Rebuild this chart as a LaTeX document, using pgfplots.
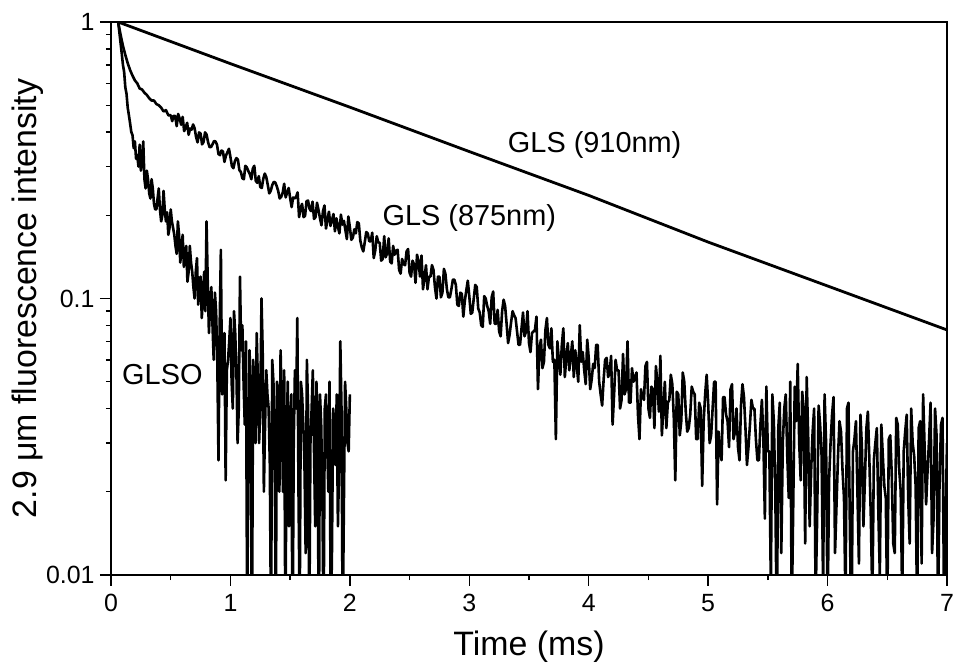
\documentclass[border=0pt]{standalone}
\usepackage{fontspec}
\setmainfont{Liberation Sans}
\usepackage{pgfplots}
\pgfplotsset{compat=1.18}
\begin{document}
\begin{tikzpicture}
\begin{axis}[
  scale only axis, width=836bp, height=553bp,
  ymode=log, xmin=0, xmax=7, ymin=0.01, ymax=1,
  xtick={0,1,2,3,4,5,6,7}, minor x tick num=1,
  ytick={0.01,0.1,1}, yticklabels={0.01,0.1,1},
  tick align=outside,
  xtick pos=bottom, ytick pos=left,
  major tick length=11bp, minor tick length=5bp,
  axis line style={line width=1.8bp},
  every tick/.style={black, line width=1.4bp},
  tick label style={font=\fontsize{25}{29}\selectfont},
  /pgf/number format/assume math mode=true,
  xticklabel style={yshift=-5bp},
  yticklabel style={xshift=-2bp},
  xlabel={Time (ms)}, ylabel={2.9 μm fluorescence intensity},
  label style={font=\fontsize{34}{39}\selectfont},
  xlabel style={yshift=-12bp},
  ylabel style={yshift=-4bp},
]
% GLS (910nm)
\addplot[black, line width=2.8bp] coordinates {
(0.06,1.0) (1,0.707) (2,0.492) (3,0.340) (4,0.236) (5,0.160) (6,0.111) (7,0.077)
};
% GLS (875nm)
\addplot[black, line width=2.6bp, line join=round] coordinates {
(0.06,1.0) (0.08,0.90) (0.10,0.82) (0.12,0.76) (0.14,0.71) (0.16,0.67) (0.18,0.64) (0.20,0.615)
(0.22,0.60) (0.24,0.575) (0.26,0.57) (0.28,0.555) (0.30,0.545) (0.32,0.53) (0.34,0.52) (0.36,0.52)
(0.38,0.505) (0.40,0.50) (0.42,0.49) (0.44,0.475) (0.46,0.48) (0.48,0.46)
(0.50,0.46) (0.5125,0.438) (0.525,0.458) (0.5375,0.457) (0.55,0.420) (0.5625,0.465) (0.575,0.448) (0.5875,0.425)
(0.60,0.454) (0.6125,0.403) (0.625,0.415) (0.6375,0.432) (0.65,0.391) (0.6625,0.412) (0.675,0.408) (0.6875,0.426)
(0.70,0.413) (0.7125,0.384) (0.725,0.367) (0.7375,0.399) (0.75,0.395) (0.7625,0.361) (0.775,0.368) (0.7875,0.399)
(0.80,0.392) (0.8125,0.368) (0.825,0.353) (0.8375,0.353) (0.85,0.361) (0.8625,0.371) (0.875,0.370) (0.8875,0.360)
(0.90,0.333) (0.9125,0.330) (0.925,0.343) (0.9375,0.340) (0.95,0.312) (0.9625,0.329) (0.975,0.338) (0.9875,0.348)
(1.00,0.325) (1.0125,0.301) (1.025,0.296) (1.0375,0.314) (1.05,0.322) (1.0625,0.318) (1.075,0.291) (1.0875,0.287)
(1.10,0.272) (1.1125,0.270) (1.125,0.302) (1.1375,0.298) (1.15,0.289) (1.1625,0.282) (1.175,0.270) (1.1875,0.295)
(1.20,0.302) (1.2125,0.266) (1.225,0.262) (1.2375,0.277) (1.25,0.253) (1.2625,0.251) (1.275,0.271) (1.2875,0.283)
(1.30,0.275) (1.3125,0.258) (1.325,0.240) (1.3375,0.245) (1.35,0.257) (1.3625,0.264) (1.375,0.263) (1.3875,0.255)
(1.40,0.245) (1.4125,0.230) (1.425,0.233) (1.4375,0.241) (1.45,0.260) (1.4625,0.232) (1.475,0.242) (1.4875,0.251)
(1.50,0.231) (1.5125,0.214) (1.525,0.232) (1.5375,0.230) (1.55,0.233) (1.5625,0.242) (1.575,0.197) (1.5875,0.212)
(1.60,0.220) (1.6125,0.197) (1.625,0.199) (1.6375,0.225) (1.65,0.226) (1.6625,0.211) (1.675,0.207) (1.6875,0.224)
(1.70,0.194) (1.7125,0.197) (1.725,0.222) (1.7375,0.209) (1.75,0.195) (1.7625,0.184) (1.775,0.207) (1.7875,0.217)
(1.80,0.179) (1.8125,0.193) (1.825,0.206) (1.8375,0.183) (1.85,0.192) (1.8625,0.202) (1.875,0.175) (1.8875,0.195)
(1.90,0.182) (1.9125,0.172) (1.925,0.201) (1.9375,0.185) (1.95,0.191) (1.9625,0.177) (1.975,0.164) (1.9875,0.198)
(2.00,0.181) (2.0125,0.163) (2.025,0.166) (2.0375,0.178) (2.05,0.172) (2.0625,0.189) (2.075,0.187) (2.0875,0.162)
(2.10,0.153) (2.1125,0.148) (2.125,0.160) (2.1375,0.174) (2.15,0.172) (2.1625,0.161) (2.175,0.161) (2.1875,0.173)
(2.20,0.140) (2.2125,0.149) (2.225,0.168) (2.2375,0.160) (2.25,0.159) (2.2625,0.137) (2.275,0.139) (2.2875,0.168)
(2.30,0.141) (2.3125,0.146) (2.325,0.165) (2.3375,0.136) (2.35,0.134) (2.3625,0.155) (2.375,0.144) (2.3875,0.149)
(2.40,0.150) (2.4125,0.127) (2.425,0.123) (2.4375,0.139) (2.45,0.133) (2.4625,0.132) (2.475,0.148) (2.4875,0.151)
(2.50,0.124) (2.5125,0.120) (2.525,0.137) (2.5375,0.133) (2.55,0.114) (2.5625,0.144) (2.575,0.136) (2.5875,0.120)
(2.60,0.143) (2.6125,0.108) (2.625,0.119) (2.6375,0.132) (2.65,0.108) (2.6625,0.120) (2.675,0.120) (2.6875,0.132)
(2.70,0.127) (2.7125,0.110) (2.725,0.100) (2.7375,0.120) (2.75,0.120) (2.7625,0.101) (2.775,0.105) (2.7875,0.128)
(2.80,0.123) (2.8125,0.108) (2.825,0.101) (2.8375,0.101) (2.85,0.108) (2.8625,0.117) (2.875,0.117) (2.8875,0.112)
(2.90,0.095) (2.9125,0.094) (2.925,0.105) (2.9375,0.104) (2.95,0.086) (2.9625,0.098) (2.975,0.107) (2.9875,0.116)
(3.00,0.102) (3.0125,0.088) (3.025,0.089) (3.0375,0.100) (3.05,0.112) (3.0625,0.110) (3.075,0.092) (3.0875,0.089)
(3.10,0.080) (3.1125,0.079) (3.125,0.102) (3.1375,0.100) (3.15,0.094) (3.1625,0.090) (3.175,0.081) (3.1875,0.101)
(3.20,0.106) (3.2125,0.081) (3.225,0.081) (3.2375,0.091) (3.25,0.076) (3.2625,0.073) (3.275,0.090) (3.2875,0.099)
(3.30,0.094) (3.3125,0.081) (3.325,0.069) (3.3375,0.074) (3.35,0.082) (3.3625,0.090) (3.375,0.087) (3.3875,0.085)
(3.40,0.076) (3.4125,0.068) (3.425,0.068) (3.4375,0.078) (3.45,0.089) (3.4625,0.073) (3.475,0.076) (3.4875,0.090)
(3.50,0.069) (3.5125,0.064) (3.525,0.075) (3.5375,0.076) (3.55,0.077) (3.5625,0.086) (3.575,0.047) (3.5875,0.066)
(3.60,0.071) (3.6125,0.056) (3.625,0.059) (3.6375,0.077) (3.65,0.085) (3.6625,0.068) (3.675,0.066) (3.6875,0.078)
(3.70,0.059) (3.7125,0.060) (3.725,0.031) (3.7375,0.070) (3.75,0.060) (3.7625,0.053) (3.775,0.068) (3.7875,0.078)
(3.80,0.052) (3.8125,0.061) (3.825,0.069) (3.8375,0.055) (3.85,0.062) (3.8625,0.070) (3.875,0.052) (3.8875,0.065)
(3.90,0.057) (3.9125,0.050) (3.925,0.080) (3.9375,0.059) (3.95,0.064) (3.9625,0.055) (3.975,0.049) (3.9875,0.071)
(4.00,0.061) (4.0125,0.047) (4.025,0.051) (4.0375,0.058) (4.05,0.056) (4.0625,0.068) (4.075,0.068) (4.0875,0.050)
(4.10,0.045) (4.1125,0.041) (4.125,0.051) (4.1375,0.060) (4.15,0.061) (4.1625,0.052) (4.175,0.054) (4.1875,0.062)
(4.20,0.035) (4.2125,0.045) (4.225,0.060) (4.2375,0.055) (4.25,0.055) (4.2625,0.040) (4.275,0.043) (4.2875,0.063)
(4.30,0.045) (4.3125,0.047) (4.325,0.070) (4.3375,0.042) (4.35,0.042) (4.3625,0.056) (4.375,0.050) (4.3875,0.052)
(4.40,0.054) (4.4125,0.038) (4.425,0.031) (4.4375,0.047) (4.45,0.044) (4.4625,0.043) (4.475,0.057) (4.4875,0.059)
(4.50,0.040) (4.5125,0.037) (4.525,0.048) (4.5375,0.047) (4.55,0.034) (4.5625,0.057) (4.575,0.050) (4.5875,0.039)
(4.60,0.062) (4.6125,0.032) (4.625,0.040) (4.6375,0.050) (4.65,0.034) (4.6625,0.042) (4.675,0.043) (4.6875,0.053)
(4.70,0.049) (4.7125,0.037) (4.725,0.022) (4.7375,0.046) (4.75,0.045) (4.7625,0.032) (4.775,0.036) (4.7875,0.054)
(4.80,0.050) (4.8125,0.039) (4.825,0.033) (4.8375,0.034) (4.85,0.038) (4.8625,0.048) (4.875,0.046) (4.8875,0.045)
(4.90,0.031) (4.9125,0.031) (4.925,0.042) (4.9375,0.040) (4.95,0.021) (4.9625,0.036) (4.975,0.045) (4.9875,0.053)
(5.00,0.042) (5.0125,0.030) (5.025,0.032) (5.0375,0.040) (5.05,0.050) (5.0625,0.050) (5.075,0.018) (5.0875,0.033)
(5.10,0.028) (5.1125,0.026) (5.125,0.044) (5.1375,0.044) (5.15,0.038) (5.1625,0.036) (5.175,0.029) (5.1875,0.047)
(5.20,0.049) (5.2125,0.031) (5.225,0.033) (5.2375,0.040) (5.25,0.029) (5.2625,0.026) (5.275,0.041) (5.2875,0.049)
(5.30,0.044) (5.3125,0.034) (5.325,0.025) (5.3375,0.029) (5.35,0.035) (5.3625,0.043) (5.375,0.040) (5.3875,0.040)
(5.40,0.031) (5.4125,0.026) (5.425,0.026) (5.4375,0.035) (5.45,0.043) (5.4625,0.031) (5.475,0.016) (5.4875,0.048)
(5.50,0.028) (5.5125,0.028) (5.525,0.009) (5.5375,0.045) (5.55,0.036) (5.5625,0.020) (5.575,0.006) (5.5875,0.034)
(5.60,0.042) (5.6125,0.012) (5.625,0.030) (5.6375,0.040) (5.65,0.045) (5.6625,0.027) (5.675,0.019) (5.6875,0.050)
(5.70,0.007) (5.7125,0.018) (5.725,0.048) (5.7375,0.036) (5.75,0.058) (5.7625,0.030) (5.775,0.022) (5.7875,0.046)
(5.80,0.040) (5.8125,0.013) (5.825,0.052) (5.8375,0.032) (5.85,0.015) (5.8625,0.024) (5.875,0.033) (5.8875,0.040)
(5.90,0.008) (5.9125,0.016) (5.925,0.041) (5.9375,0.035) (5.95,0.027) (5.9625,0.009) (5.975,0.045) (5.9875,0.030)
(6.00,0.007) (6.0125,0.022) (6.025,0.030) (6.0375,0.038) (6.05,0.044) (6.0625,0.012) (6.075,0.018) (6.0875,0.027)
(6.10,0.036) (6.1125,0.033) (6.125,0.024) (6.1375,0.019) (6.15,0.008) (6.1625,0.040) (6.175,0.042) (6.1875,0.014)
(6.20,0.006) (6.2125,0.028) (6.225,0.031) (6.2375,0.036) (6.25,0.020) (6.2625,0.011) (6.275,0.038) (6.2875,0.029)
(6.30,0.015) (6.3125,0.022) (6.325,0.034) (6.3375,0.039) (6.35,0.026) (6.3625,0.016) (6.375,0.008) (6.3875,0.026)
(6.40,0.030) (6.4125,0.034) (6.425,0.017) (6.4375,0.010) (6.45,0.035) (6.4625,0.027) (6.475,0.021) (6.4875,0.019)
(6.50,0.007) (6.5125,0.031) (6.525,0.032) (6.5375,0.023) (6.55,0.013) (6.5625,0.012) (6.575,0.037) (6.5875,0.035)
(6.60,0.024) (6.6125,0.020) (6.625,0.008) (6.6375,0.028) (6.65,0.033) (6.6625,0.038) (6.675,0.019) (6.6875,0.013)
(6.70,0.040) (6.7125,0.030) (6.725,0.027) (6.7375,0.021) (6.75,0.007) (6.7625,0.034) (6.775,0.036) (6.7875,0.011)
(6.80,0.045) (6.8125,0.029) (6.825,0.018) (6.8375,0.024) (6.85,0.031) (6.8625,0.042) (6.875,0.012) (6.8875,0.016)
(6.90,0.040) (6.9125,0.032) (6.925,0.007) (6.9375,0.022) (6.95,0.035) (6.9625,0.037) (6.975,0.008) (6.9875,0.015)
(7.00,0.030)
};
% GLSO
\addplot[black, line width=2.6bp, line join=round] coordinates {
(0.06,1.0) (0.07,0.92) (0.08,0.84) (0.09,0.77) (0.10,0.70) (0.11,0.66) (0.12,0.58) (0.13,0.55)
(0.14,0.49) (0.15,0.46) (0.16,0.43) (0.17,0.40) (0.18,0.39) (0.19,0.35) (0.20,0.37) (0.21,0.32)
(0.22,0.33) (0.23,0.30) (0.24,0.36) (0.25,0.29) (0.26,0.31) (0.27,0.37)
(0.28,0.27) (0.29,0.25) (0.30,0.29) (0.31,0.27) (0.32,0.24) (0.33,0.23) (0.34,0.27) (0.35,0.25)
(0.36,0.22) (0.37,0.21) (0.38,0.21) (0.39,0.23) (0.40,0.25) (0.41,0.21) (0.42,0.19) (0.43,0.20)
(0.44,0.245) (0.45,0.21) (0.46,0.19) (0.47,0.205) (0.48,0.17) (0.49,0.18) (0.50,0.21) (0.51,0.19)
(0.52,0.18) (0.53,0.17) (0.54,0.155) (0.55,0.145) (0.56,0.19) (0.57,0.17) (0.58,0.135) (0.59,0.15)
(0.60,0.17) (0.61,0.13) (0.62,0.145) (0.63,0.155) (0.64,0.115) (0.65,0.125) (0.66,0.155) (0.67,0.135)
(0.68,0.125) (0.69,0.11) (0.70,0.10) (0.71,0.125) (0.72,0.14) (0.73,0.095) (0.74,0.115) (0.75,0.12)
(0.76,0.085) (0.77,0.10) (0.78,0.125) (0.79,0.09) (0.80,0.19) (0.81,0.115) (0.82,0.075) (0.83,0.095)
(0.84,0.11) (0.85,0.08) (0.86,0.06) (0.87,0.105) (0.88,0.09) (0.89,0.06) (0.90,0.026) (0.91,0.08)
(0.92,0.15) (0.93,0.045) (0.94,0.07) (0.95,0.075) (0.96,0.022) (0.97,0.055) (0.98,0.06) (0.99,0.07)
(1.00,0.085) (1.01,0.05) (1.02,0.04) (1.03,0.09) (1.04,0.075) (1.05,0.055) (1.06,0.03) (1.07,0.04)
(1.08,0.12) (1.09,0.065) (1.10,0.08) (1.11,0.05) (1.12,0.035) (1.13,0.07) (1.14,0.007) (1.15,0.025)
(1.16,0.065) (1.17,0.045) (1.18,0.005) (1.19,0.06) (1.20,0.05) (1.21,0.03) (1.22,0.075) (1.23,0.05)
(1.24,0.03) (1.25,0.04) (1.26,0.10) (1.27,0.065) (1.28,0.02) (1.29,0.035) (1.30,0.055) (1.31,0.045)
(1.32,0.04) (1.33,0.025) (1.34,0.006) (1.35,0.06) (1.36,0.05) (1.37,0.03) (1.38,0.007) (1.39,0.05)
(1.40,0.045) (1.41,0.02) (1.42,0.065) (1.43,0.04) (1.44,0.02) (1.45,0.055) (1.46,0.006) (1.47,0.03)
(1.48,0.05) (1.49,0.015) (1.50,0.035) (1.51,0.045) (1.52,0.005) (1.53,0.03) (1.54,0.055) (1.55,0.04)
(1.56,0.085) (1.57,0.02) (1.58,0.007) (1.59,0.05) (1.60,0.045) (1.61,0.035) (1.62,0.025) (1.63,0.012)
(1.64,0.06) (1.65,0.04) (1.66,0.006) (1.67,0.03) (1.68,0.04) (1.69,0.055) (1.70,0.028) (1.71,0.015)
(1.72,0.05) (1.73,0.035) (1.74,0.005) (1.75,0.045) (1.76,0.035) (1.77,0.02) (1.78,0.006) (1.79,0.04)
(1.80,0.045) (1.81,0.03) (1.82,0.02) (1.83,0.05) (1.84,0.006) (1.85,0.012) (1.86,0.04) (1.87,0.035)
(1.88,0.025) (1.89,0.045) (1.90,0.015) (1.91,0.025) (1.92,0.07) (1.93,0.04) (1.94,0.006) (1.95,0.018)
(1.96,0.05) (1.97,0.04) (1.98,0.03) (1.99,0.028) (2.00,0.045)
};
\node[font=\fontsize{29}{34}\selectfont] at (axis cs:4.05,0.36) {GLS (910nm)};
\node[font=\fontsize{29}{34}\selectfont] at (axis cs:3.0,0.196) {GLS (875nm)};
\node[font=\fontsize{29}{34}\selectfont] at (axis cs:0.43,0.053) {GLSO};
\end{axis}
\pgfresetboundingbox
\useasboundingbox ([shift={(-111bp,-93bp)}]current axis.south west) rectangle ([shift={(9bp,22bp)}]current axis.north east);
\end{tikzpicture}
\end{document}
